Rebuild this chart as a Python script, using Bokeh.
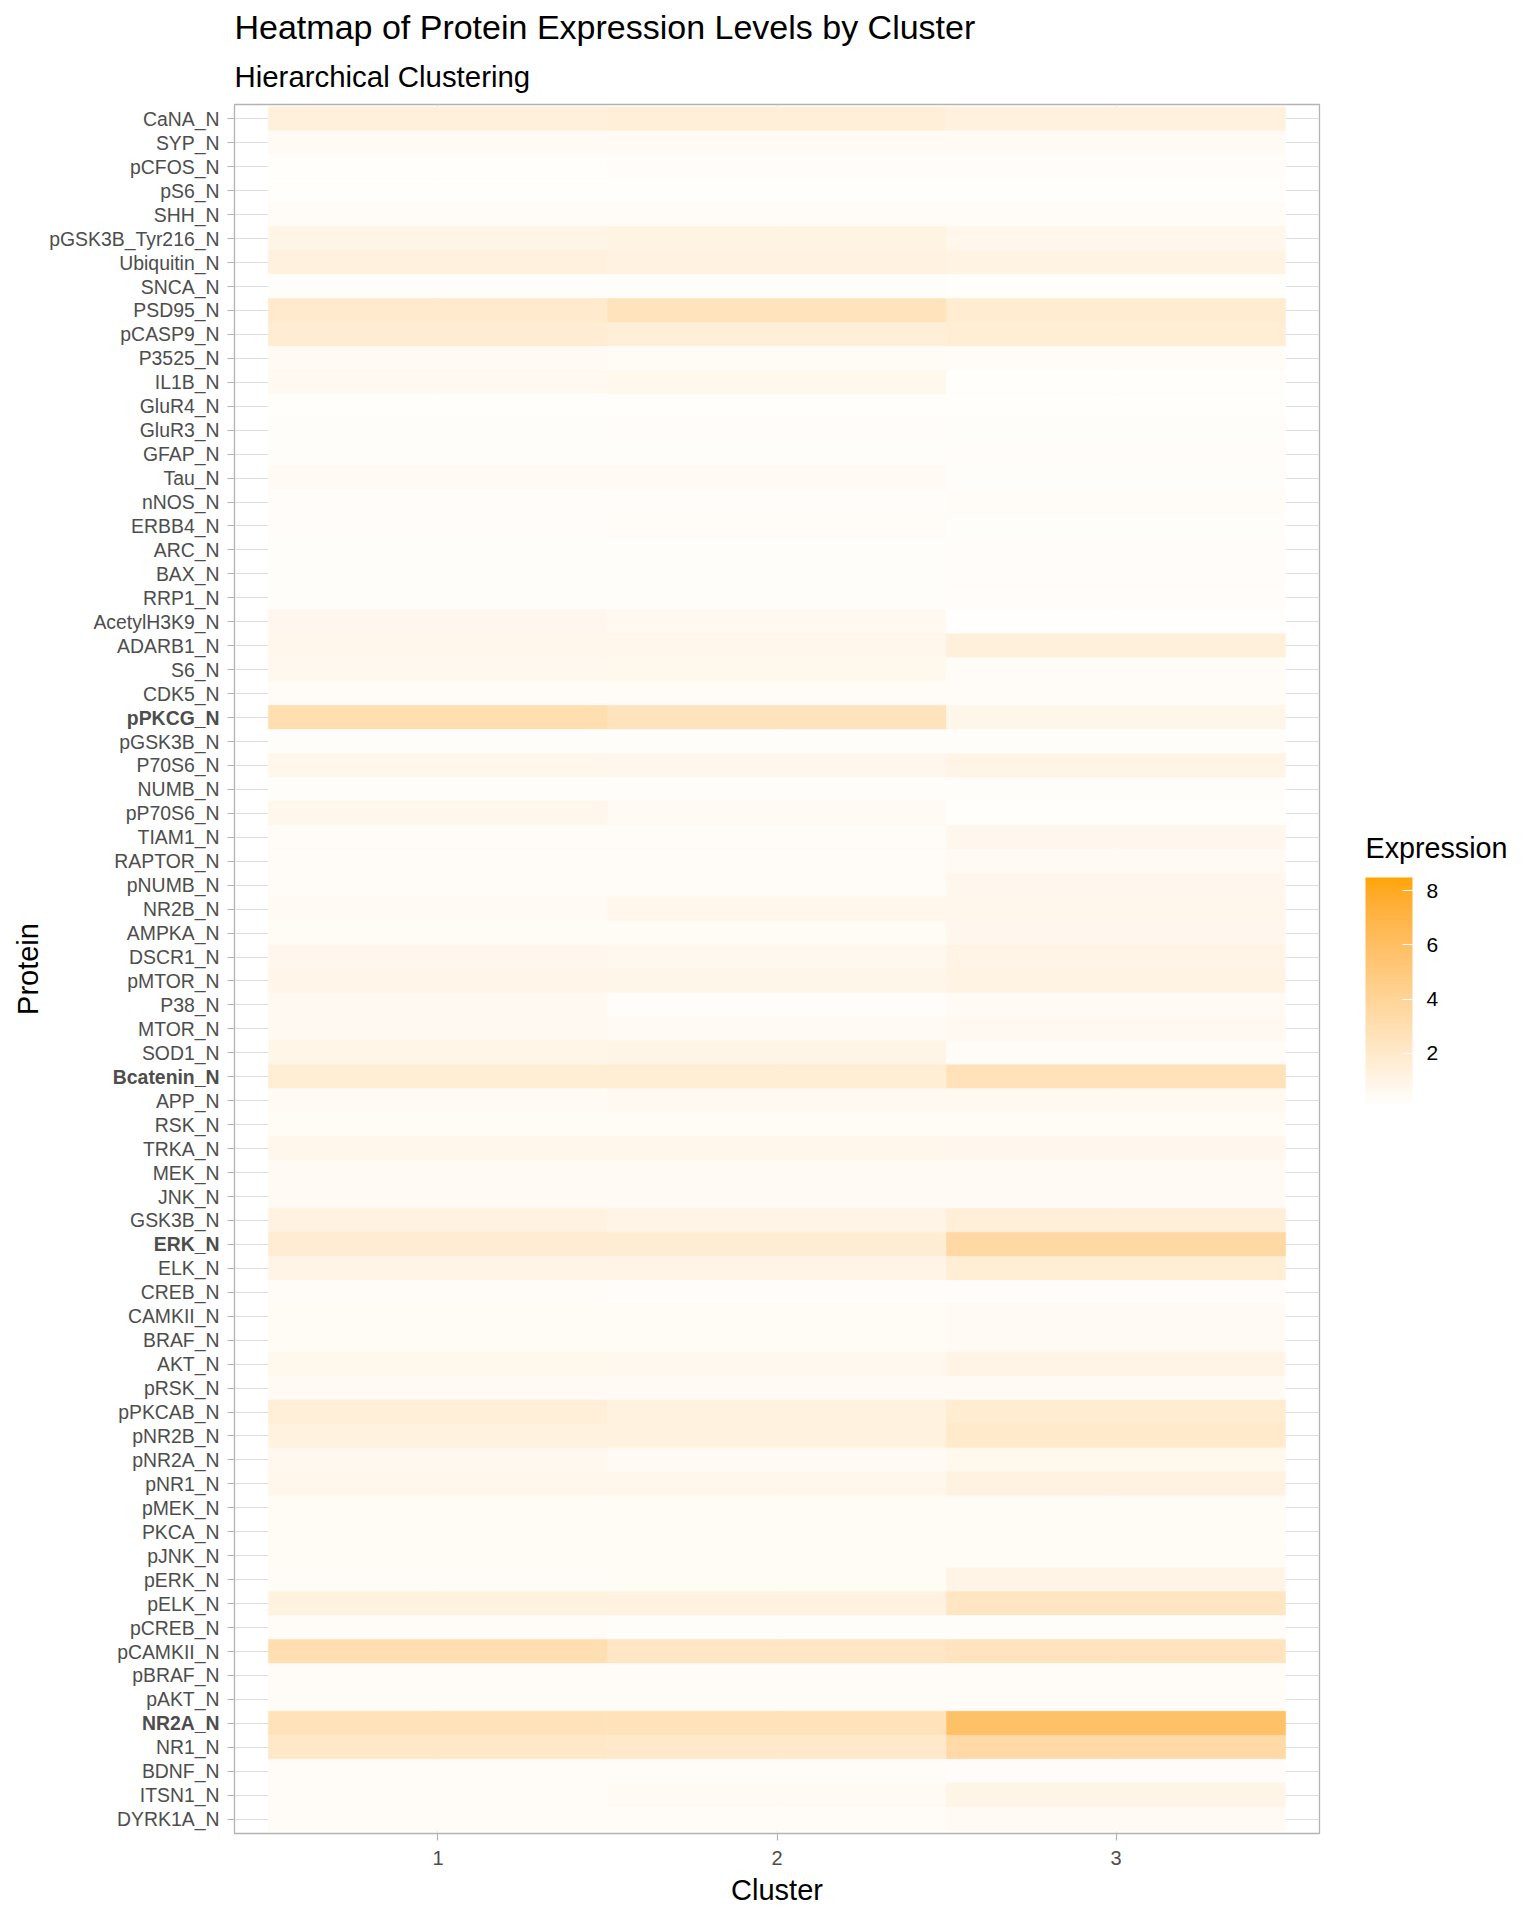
import numpy as np
from bokeh.plotting import figure
from bokeh.layouts import row
from bokeh.models import (FactorRange, Range1d, LinearColorMapper, ColorBar, FixedTicker,
                          ColumnDataSource, Title)
from bokeh.core.properties import value
from bokeh.embed import file_html
from bokeh.resources import INLINE

# ---------------- data ----------------
proteins = ["CaNA_N", "SYP_N", "pCFOS_N", "pS6_N", "SHH_N", "pGSK3B_Tyr216_N", "Ubiquitin_N",
            "SNCA_N", "PSD95_N", "pCASP9_N", "P3525_N", "IL1B_N", "GluR4_N", "GluR3_N",
            "GFAP_N", "Tau_N", "nNOS_N", "ERBB4_N", "ARC_N", "BAX_N", "RRP1_N", "AcetylH3K9_N",
            "ADARB1_N", "S6_N", "CDK5_N", "pPKCG_N", "pGSK3B_N", "P70S6_N", "NUMB_N",
            "pP70S6_N", "TIAM1_N", "RAPTOR_N", "pNUMB_N", "NR2B_N", "AMPKA_N", "DSCR1_N",
            "pMTOR_N", "P38_N", "MTOR_N", "SOD1_N", "Bcatenin_N", "APP_N", "RSK_N", "TRKA_N",
            "MEK_N", "JNK_N", "GSK3B_N", "ERK_N", "ELK_N", "CREB_N", "CAMKII_N", "BRAF_N",
            "AKT_N", "pRSK_N", "pPKCAB_N", "pNR2B_N", "pNR2A_N", "pNR1_N", "pMEK_N", "PKCA_N",
            "pJNK_N", "pERK_N", "pELK_N", "pCREB_N", "pCAMKII_N", "pBRAF_N", "pAKT_N",
            "NR2A_N", "NR1_N", "BDNF_N", "ITSN1_N", "DYRK1A_N"]
bold_proteins = ["pPKCG_N", "Bcatenin_N", "ERK_N", "NR2A_N"]
clusters = [1, 2, 3]

cluster1 = [1.42, 0.46, 0.20, 0.20, 0.38, 0.95, 1.35, 0.25, 1.93, 1.74, 0.46, 0.60, 0.20, 0.25,
            0.25, 0.46, 0.30, 0.30, 0.25, 0.25, 0.25, 0.76, 0.83, 0.64, 0.38, 3.10, 0.25, 0.83,
            0.25, 0.83, 0.38, 0.38, 0.38, 0.53, 0.42, 0.76, 0.88, 0.57, 0.57, 0.91, 1.68, 0.46,
            0.42, 0.83, 0.46, 0.46, 1.22, 1.74, 1.05, 0.35, 0.42, 0.42, 0.71, 0.50, 1.48, 1.29,
            0.64, 0.83, 0.42, 0.42, 0.42, 0.38, 1.29, 0.35, 3.00, 0.35, 0.35, 2.65, 2.15, 0.35,
            0.38, 0.35]
cluster2 = [1.48, 0.53, 0.30, 0.20, 0.38, 1.15, 1.22, 0.25, 2.60, 1.55, 0.42, 0.71, 0.20, 0.30,
            0.25, 0.50, 0.30, 0.35, 0.25, 0.25, 0.25, 0.60, 0.80, 0.71, 0.38, 2.60, 0.25, 0.76,
            0.25, 0.53, 0.38, 0.38, 0.38, 0.83, 0.42, 0.64, 0.86, 0.30, 0.53, 0.95, 1.68, 0.57,
            0.42, 0.83, 0.46, 0.46, 1.02, 1.71, 1.02, 0.30, 0.42, 0.42, 0.67, 0.50, 1.29, 1.29,
            0.53, 0.83, 0.42, 0.42, 0.42, 0.42, 1.22, 0.25, 2.30, 0.35, 0.35, 2.65, 2.08, 0.35,
            0.46, 0.35]
cluster3 = [1.35, 0.53, 0.30, 0.20, 0.35, 0.83, 1.08, 0.20, 1.80, 1.68, 0.38, 0.20, 0.20, 0.25,
            0.30, 0.25, 0.35, 0.25, 0.30, 0.30, 0.30, 0.15, 1.42, 0.35, 0.38, 0.86, 0.25, 1.02,
            0.25, 0.20, 0.76, 0.53, 0.76, 0.83, 0.76, 1.05, 1.08, 0.50, 0.60, 0.38, 2.65, 0.57,
            0.42, 0.76, 0.46, 0.46, 1.55, 3.52, 1.68, 0.30, 0.46, 0.46, 1.02, 0.50, 1.80, 2.00,
            0.71, 1.22, 0.42, 0.42, 0.42, 1.05, 2.37, 0.25, 2.50, 0.35, 0.35, 5.80, 3.45, 0.30,
            0.95, 0.53]

scale_low, scale_high = 0.04, 8.48
legend_ticks = [2, 4, 6, 8]

# ---------------- palette: white -> orange, interpolated in Lab ----------------
def _srgb_to_lin(c):
    c = c / 255.0
    return np.where(c <= 0.04045, c / 12.92, ((c + 0.055) / 1.055) ** 2.4)

def _lin_to_srgb(c):
    c = np.clip(c, 0, 1)
    return np.where(c <= 0.0031308, 12.92 * c, 1.055 * c ** (1 / 2.4) - 0.055) * 255

_M = np.array([[0.4124, 0.3576, 0.1805], [0.2126, 0.7152, 0.0722], [0.0193, 0.1192, 0.9505]])
_Mi = np.linalg.inv(_M)
_W = np.array([0.95047, 1.0, 1.08883])

def _f(t):
    return np.where(t > (6 / 29) ** 3, np.cbrt(t), t / (3 * (6 / 29) ** 2) + 4 / 29)

def _finv(t):
    return np.where(t > 6 / 29, t ** 3, 3 * (6 / 29) ** 2 * (t - 4 / 29))

def hex_to_lab(h):
    rgb = np.array([int(h[i:i + 2], 16) for i in (1, 3, 5)], dtype=float)
    xyz = _M @ _srgb_to_lin(rgb) / _W
    fx, fy, fz = _f(xyz)
    return np.array([116 * fy - 16, 500 * (fx - fy), 200 * (fy - fz)])

def lab_to_hex(lab):
    L, a, b = lab
    fy = (L + 16) / 116
    xyz = np.array([_finv(fy + a / 500), _finv(fy), _finv(fy - b / 200)]) * _W
    rgb = _lin_to_srgb(_Mi @ xyz)
    return "#%02x%02x%02x" % tuple(int(round(v)) for v in rgb)

lo, hi = hex_to_lab("#FFFFFF"), hex_to_lab("#FFA500")
palette = [lab_to_hex(lo + (hi - lo) * t) for t in np.linspace(0, 1, 256)]
mapper = LinearColorMapper(palette=palette, low=scale_low, high=scale_high)

# ---------------- layout constants (pixels) ----------------
FONT = "Liberation Sans"
H = 1920
TOP, BOTTOM = 104, 87
AXT_W = 45            # column holding the "Protein" axis title
LAB_W = 182           # column holding the protein names
MAIN_W = 1094         # 7px tick panel + frame + 2px border
RIGHT_W = 1536 - AXT_W - LAB_W - MAIN_W


def blank_fig(width, x_range, y_range, top=0, bottom=0):
    f = figure(width=width, height=H, x_range=x_range, y_range=y_range,
               output_backend="svg", toolbar_location=None,
               x_axis_location=None, y_axis_location=None,
               min_border_left=0, min_border_right=0, min_border_top=top,
               min_border_bottom=bottom)
    f.outline_line_color = None
    f.grid.visible = False
    return f


# ---------------- source ----------------
xs, ys, vals = [], [], []
for c, series in zip(clusters, [cluster1, cluster2, cluster3]):
    for prot, v in zip(proteins, series):
        xs.append(c)
        ys.append(prot)
        vals.append(v)
src = ColumnDataSource(dict(cluster=xs, protein=ys, value=vals))

yr = FactorRange(factors=proteins[::-1], range_padding=0.1, range_padding_units="absolute")

# ---------------- main heatmap ----------------
p = figure(width=MAIN_W, height=H, x_range=Range1d(0.4, 3.6), y_range=yr,
           output_backend="svg", toolbar_location=None,
           min_border_left=0, min_border_right=2, min_border_top=TOP,
           min_border_bottom=BOTTOM,
           title="Heatmap of Protein Expression Levels by Cluster")

p.rect(x="cluster", y="protein", width=1, height=1, source=src,
       fill_color={"field": "value", "transform": mapper},
       line_color={"field": "value", "transform": mapper}, line_width=0.6)

p.title.text_font = FONT
p.title.text_font_size = "34px"
p.title.text_font_style = "normal"
p.title.text_color = "black"
p.title.align = "left"
p.title.standoff = 2
p.add_layout(Title(text="Hierarchical Clustering", text_font=FONT, text_font_size="29.4px",
                   text_font_style="normal", text_color="black", align="left",
                   standoff=23), "above")

p.background_fill_color = "white"
p.border_fill_color = "white"
p.outline_line_color = "#B3B3B3"
p.outline_line_width = 1.3

p.ygrid.grid_line_color = "#DEDEDE"
p.ygrid.grid_line_width = 1
p.xgrid.ticker = FixedTicker(ticks=clusters)
p.xgrid.grid_line_color = "#DEDEDE"
p.xgrid.grid_line_width = 1

p.xaxis.ticker = FixedTicker(ticks=clusters)
p.xaxis.axis_label = "Cluster"
for ax in (p.xaxis, p.yaxis):
    ax.axis_line_color = None
    ax.major_tick_line_color = "#B3B3B3"
    ax.major_tick_line_width = 1.2
    ax.major_tick_out = 7
    ax.major_tick_in = 0
    ax.minor_tick_line_color = None
p.xaxis.major_label_text_font = FONT
p.xaxis.major_label_text_font_size = "20px"
p.xaxis.major_label_text_color = "#4D4D4D"
p.xaxis.major_label_standoff = 10
p.xaxis.axis_label_text_font = FONT
p.xaxis.axis_label_text_font_size = "29px"
p.xaxis.axis_label_text_font_style = "normal"
p.xaxis.axis_label_text_color = "black"
p.xaxis.axis_label_standoff = 6
# y tick marks only; the names are written in the label column to the left
p.yaxis.major_label_text_font_size = "0px"
p.yaxis.major_label_text_color = None
p.yaxis.major_label_standoff = 0

# ---------------- protein names column ----------------
labs = blank_fig(LAB_W, Range1d(0, LAB_W), yr, top=TOP, bottom=BOTTOM)
normal_names = [n for n in proteins if n not in bold_proteins]
labs.text(x=[LAB_W - 8] * len(normal_names), y=normal_names, text=normal_names,
          text_align="right", text_baseline="middle", text_font=value(FONT),
          text_font_size="19.4px", text_color="#4D4D4D")
labs.text(x=[LAB_W - 8] * len(bold_proteins), y=bold_proteins, text=bold_proteins,
          text_align="right", text_baseline="middle", text_font=value(FONT),
          text_font_size="19.4px", text_font_style="bold", text_color="#4D4D4D")

# ---------------- y axis title column ----------------
axt = blank_fig(AXT_W, Range1d(0, AXT_W), Range1d(0, H))
axt.text(x=[27], y=[H - 960], text=["Protein"], angle=np.pi / 2,
         text_align="center", text_baseline="middle", text_font=value(FONT),
         text_font_size="29px", text_color="black")

# ---------------- legend column ----------------
right = blank_fig(RIGHT_W, Range1d(0, RIGHT_W), Range1d(0, H))
right.text(x=[44], y=[H - 826], text=["Expression"], text_align="left",
           text_baseline="middle", text_font=value(FONT), text_font_size="28.7px",
           text_color="black")

cb = ColorBar(color_mapper=mapper, ticker=FixedTicker(ticks=legend_ticks),
              width=47, height=229, location=(44, H - 1105 - 88), padding=0,
              major_label_text_font=FONT, major_label_text_font_size="21px",
              major_label_text_color="black", label_standoff=14,
              major_tick_line_color="white", major_tick_line_width=1.2,
              major_tick_in=10, major_tick_out=0, minor_tick_line_color=None,
              bar_line_color=None, border_line_color=None, background_fill_color=None)
right.add_layout(cb, "center")

layout = row(axt, labs, p, right)
open("out.html", "w").write(file_html(layout, INLINE))
